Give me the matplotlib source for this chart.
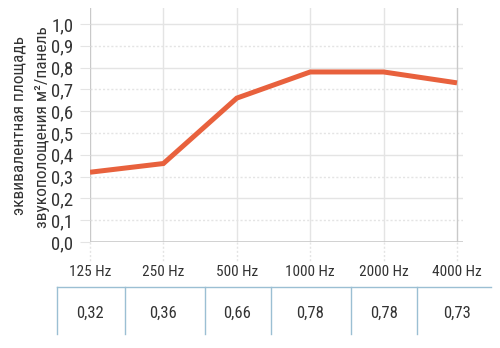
import matplotlib
matplotlib.use('Agg')
import matplotlib.pyplot as plt
from matplotlib.font_manager import fontManager
from matplotlib.lines import Line2D
from matplotlib.ticker import FuncFormatter

FREQS = ['125 Hz', '250 Hz', '500 Hz', '1000 Hz', '2000 Hz', '4000 Hz']
ABSORPTION = [0.32, 0.36, 0.66, 0.78, 0.78, 0.73]
Y_TICKS = [0.0, 0.1, 0.2, 0.3, 0.4, 0.5, 0.6, 0.7, 0.8, 0.9, 1.0]
Y_LABEL_1 = 'эквивалентная площадь'
Y_LABEL_2 = 'звукополощения м²/панель'

names = {f.name for f in fontManager.ttflist}
FONT = next((n for n in ['Roboto Condensed', 'Open Sans Condensed', 'Liberation Sans Narrow',
                         'Liberation Sans'] if n in names), 'DejaVu Sans')
plt.rcParams['font.family'] = [FONT, 'DejaVu Sans']

LINE = '#e8613d'
GRID = '#e4e4e4'
AXIS = '#c9c9c9'
TABLE = '#9bbfd3'
TEXT = '#333333'

W, H = 500, 348
fig = plt.figure(figsize=(W / 100, H / 100), dpi=100)
# axes spans pixels x 90..463, y 8..242
ax = fig.add_axes([90 / W, 1 - 242 / H, (463 - 90) / W, (242 - 8) / H])
xs = list(range(len(FREQS)))
x_end = 5 * (463 - 90) / (457 - 90)
ax.set_xlim(0, x_end)
ax.set_ylim(0, 1.0 + 16 / 218)

for y in Y_TICKS[1:]:
    odd = round(y * 10) % 2 == 1
    ax.axhline(y, color=GRID, lw=1.0, ls=(0, (1.5, 1.5)) if odd else '-', zorder=1)
for x in xs:
    ax.axvline(x, color=GRID if 0 < x < 5 else AXIS, lw=1.0, zorder=1)
    ax.plot([x, x], [0, -0.09], color=GRID, lw=1.0, ls=(0, (1.5, 1.5)), clip_on=False, zorder=1)
ax.axhline(0, color=AXIS, lw=1.2, zorder=2)

ax.plot(xs, ABSORPTION, color=LINE, lw=3.6, solid_joinstyle='miter', solid_capstyle='butt', zorder=3)

for s in ax.spines.values():
    s.set_visible(False)
ax.set_xticks([])
ax.set_yticks(Y_TICKS)
ax.yaxis.set_major_formatter(FuncFormatter(lambda v, _: f'{v:.1f}'.replace('.', ',')))
ax.tick_params(axis='y', length=7, color=GRID, labelsize=13.5, labelcolor=TEXT, pad=5)

fig.text(19 / W, 1 - 126 / H, Y_LABEL_1, rotation=90, ha='center', va='center', fontsize=12.5, color=TEXT)
fig.text(43 / W, 1 - 127 / H, Y_LABEL_2, rotation=90, ha='center', va='center', fontsize=12.5, color=TEXT)

# frequency headers and value row beneath the plot
for x, f, v in zip(xs, FREQS, ABSORPTION):
    ax.annotate(f, (x, 0), xytext=(0, -30), textcoords='offset pixels', ha='center', va='center',
                fontsize=11, color=TEXT, annotation_clip=False)
    ax.annotate(f'{v:.2f}'.replace('.', ','), (x, 0), xytext=(0, -71), textcoords='offset pixels',
                ha='center', va='center', fontsize=12, color=TEXT, annotation_clip=False)

fig.add_artist(Line2D([57 / W, 491 / W], [1 - 287 / H] * 2, color=TABLE, lw=1.0))
for px in [57, 125, 205, 271, 351, 417]:
    fig.add_artist(Line2D([px / W] * 2, [1 - 287 / H, 1 - 334 / H], color=TABLE, lw=1.0))

fig.savefig('out.png', dpi=100)
